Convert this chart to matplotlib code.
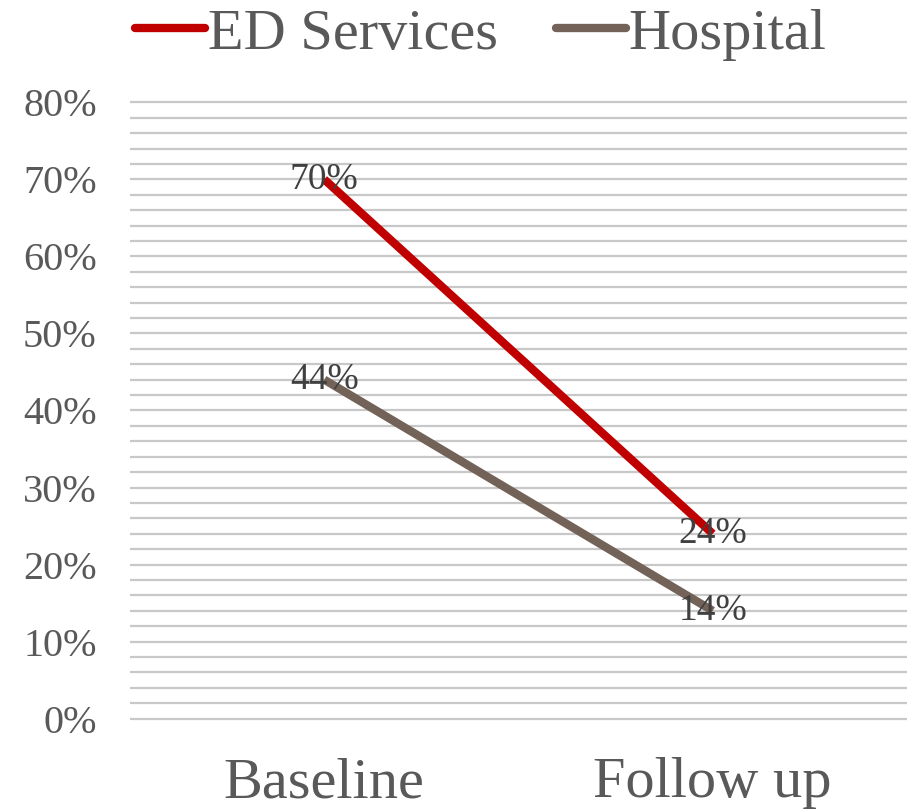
import matplotlib.pyplot as plt
from matplotlib.ticker import MultipleLocator, FuncFormatter

plt.rcParams['font.family'] = ['Liberation Serif', 'DejaVu Serif']

categories = ['Baseline', 'Follow up']
ed_services = [70, 24]
hospital = [44, 14]

TEXT = '#595959'

fig = plt.figure(figsize=(9.07, 8.09), dpi=100)
ax = fig.add_axes([0.1433, 0.1088, 0.8567, 0.7676])

x = list(range(len(categories)))
ax.plot(x, ed_services, color='#C00000', lw=6, solid_capstyle='butt',
        label='ED Services', zorder=3)
ax.plot(x, hospital, color='#736257', lw=6, solid_capstyle='butt',
        label='Hospital', zorder=3)

for series in (ed_services, hospital):
    for xi, v in zip(x, series):
        ax.text(xi, v, '{}%'.format(v), ha='center', va='center',
                fontsize=27, color='#404040', zorder=4)

ax.set_xlim(-0.5, 1.5)
ax.yaxis.set_major_locator(MultipleLocator(10))
ax.yaxis.set_minor_locator(MultipleLocator(2))
ax.yaxis.set_major_formatter(FuncFormatter(lambda v, p: '{:.0f}%'.format(v)))
ax.grid(axis='y', which='both', color='#C8C8C8', lw=1.6, zorder=0)
ax.set_xticks(x)
ax.set_xticklabels(categories)
ax.tick_params(axis='y', which='both', length=0, pad=24, labelsize=29,
               labelcolor=TEXT)
ax.tick_params(axis='x', length=0, pad=26, labelsize=42, labelcolor=TEXT)
for s in ax.spines.values():
    s.set_visible(False)
ax.set_ylim(-0.3, 80.3)

leg = fig.legend(loc='upper center', bbox_to_anchor=(0.53, 1.055), ncol=2,
                 frameon=False, fontsize=42, handlelength=1.2,
                 handletextpad=0.05, columnspacing=1.0)
for t in leg.get_texts():
    t.set_color(TEXT)
for h in leg.legend_handles:
    h.set_solid_capstyle('round')

fig.savefig('out.png', dpi=100)
